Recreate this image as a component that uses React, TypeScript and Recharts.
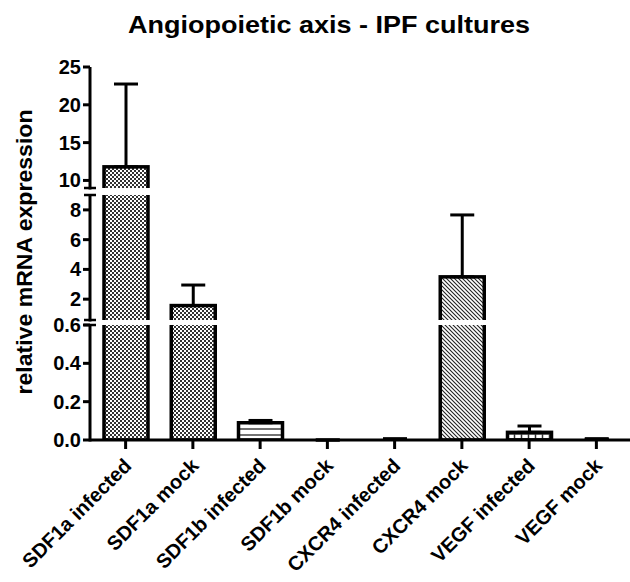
import React from 'react';
import { BarChart, Bar, XAxis, YAxis, ErrorBar } from 'recharts';

const categories = [
  'SDF1a infected',
  'SDF1a mock',
  'SDF1b infected',
  'SDF1b mock',
  'CXCR4 infected',
  'CXCR4 mock',
  'VEGF infected',
  'VEGF mock',
];
const means = [11.8, 1.57, 0.09, 0, 0.003, 3.5, 0.04, 0.003];
const errors = [10.95, 1.38, 0.012, 0, 0.004, 4.16, 0.033, 0.004];
const tickValues = [0, 0.2, 0.4, 0.6, 2, 4, 6, 8, 10, 15, 20, 25];
const tickLabels = ['0.0', '0.2', '0.4', '0.6', '2', '4', '6', '8', '10', '15', '20', '25'];

// fill pattern for each bar, in category order
const barPatterns = ['checker', 'checker', 'hlines', 'checker', 'hlines', 'diag', 'grid', 'diag'];

// broken y axis: each value range is mapped onto a piece of the axis (1 unit = 1px of plot height)
const axisParts = [
  { lo: 0, hi: 0.6, from: 0, to: 115 },
  { lo: 0.6, hi: 9, from: 120, to: 245 },
  { lo: 9, hi: 25, from: 252, to: 373 },
];
const AXIS_TOP = 373;

const toAxis = (v: number) => {
  const p = axisParts.find((s) => v <= s.hi) || axisParts[axisParts.length - 1];
  return p.from + ((v - p.lo) / (p.hi - p.lo)) * (p.to - p.from);
};

const rows = categories.map((name, i) => ({
  name,
  u: toAxis(means[i]),
  err: [0, toAxis(means[i] + errors[i]) - toAxis(means[i])],
}));

const FONT = '"Liberation Sans", Arial, Helvetica, sans-serif';

const PatternBar = (props: any) => {
  const { x, y, width, height, index, payload } = props;
  if (!height || height < 1.5) return null;
  const bottom = y + height;
  const k = height / payload.u;
  const gaps = axisParts
    .slice(1)
    .map((p, i) => [axisParts[i].to, p.from])
    .filter(([a]) => a < payload.u);
  return (
    <g>
      <rect
        x={x}
        y={y}
        width={width}
        height={height}
        fill={`url(#${barPatterns[index]})`}
        stroke="#000"
        strokeWidth={3.5}
      />
      {gaps.map(([a, b], i) => (
        <rect key={i} x={x - 3} y={bottom - b * k} width={width + 6} height={(b - a) * k} fill="#fff" />
      ))}
    </g>
  );
};

const YTick = (props: any) => {
  const { x, y, index } = props;
  return (
    <g>
      <line x1={x - 7} y1={y} x2={x} y2={y} stroke="#000" strokeWidth={3} />
      <text
        x={x - 9}
        y={y}
        dy={7}
        textAnchor="end"
        fontSize={20}
        fontWeight="bold"
        fontFamily={FONT}
        fill="#000"
      >
        {tickLabels[index]}
      </text>
      {index === 0 &&
        axisParts.map((p, i) => (
          <g key={i}>
            <line x1={x} y1={y - p.from + 1.5} x2={x} y2={y - p.to} stroke="#000" strokeWidth={3} />
            {i > 0 && <line x1={x - 6} y1={y - p.from} x2={x + 6} y2={y - p.from} stroke="#000" strokeWidth={2.5} />}
            {i < axisParts.length - 1 && (
              <line x1={x - 6} y1={y - p.to} x2={x + 6} y2={y - p.to} stroke="#000" strokeWidth={2.5} />
            )}
          </g>
        ))}
    </g>
  );
};

const XTick = (props: any) => {
  const { x, y, payload } = props;
  return (
    <g>
      <line x1={x} y1={y} x2={x} y2={y + 9} stroke="#000" strokeWidth={3} />
      <text
        transform={`translate(${x + 7},${y + 27}) rotate(-45)`}
        textAnchor="end"
        fontSize={20}
        fontWeight="bold"
        fontFamily={FONT}
        fill="#000"
      >
        {payload.value}
      </text>
    </g>
  );
};

const App = () => {
  return (
    <div style={{ position: 'absolute', left: 0, top: 0, width: 630, height: 582, background: '#fff' }}>
      <BarChart width={630} height={582} data={rows} margin={{ top: 67, right: 0, left: 0, bottom: 0 }} barSize={44}>
        <XAxis
          dataKey="name"
          height={142}
          interval={0}
          tick={<XTick />}
          tickLine={false}
          tickSize={0}
          tickMargin={0}
          axisLine={{ stroke: '#000', strokeWidth: 3 }}
          padding={{ left: 2, right: 0 }}
        />
        <YAxis
          type="number"
          width={90}
          domain={[0, AXIS_TOP]}
          ticks={tickValues.map(toAxis)}
          tick={<YTick />}
          tickLine={false}
          tickSize={0}
          tickMargin={0}
          axisLine={false}
          allowDataOverflow
        />
        <Bar dataKey="u" shape={<PatternBar />} isAnimationActive={false}>
          <ErrorBar dataKey="err" width={12} strokeWidth={3} stroke="#000" direction="y" isAnimationActive={false} />
        </Bar>
      </BarChart>
      <svg width={630} height={582} style={{ position: 'absolute', left: 0, top: 0, pointerEvents: 'none' }}>
        <defs>
          <pattern id="checker" width={4} height={4} patternUnits="userSpaceOnUse">
            <rect width={4} height={4} fill="#fff" />
            <rect width={2} height={2} fill="#333" />
            <rect x={2} y={2} width={2} height={2} fill="#333" />
          </pattern>
          <pattern id="hlines" width={6} height={6} patternUnits="userSpaceOnUse">
            <rect width={6} height={6} fill="#fff" />
            <line x1={0} y1={3} x2={6} y2={3} stroke="#444" strokeWidth={1.5} />
          </pattern>
          <pattern id="diag" width={4} height={4} patternUnits="userSpaceOnUse">
            <rect width={4} height={4} fill="#fff" />
            <path d="M0,0 L4,4 M-1,3 L1,5 M3,-1 L5,1" stroke="#222" strokeWidth={1.1} />
          </pattern>
          <pattern id="grid" width={7} height={5} patternUnits="userSpaceOnUse">
            <rect width={7} height={5} fill="#fff" />
            <line x1={0} y1={4} x2={7} y2={4} stroke="#333" strokeWidth={1.5} />
            <line x1={3.5} y1={0} x2={3.5} y2={5} stroke="#333" strokeWidth={1.5} />
          </pattern>
        </defs>
        <text
          x={329}
          y={33}
          textAnchor="middle"
          fontSize={24}
          fontWeight="bold"
          fontFamily={FONT}
          textLength={402}
          lengthAdjust="spacingAndGlyphs"
        >
          Angiopoietic axis - IPF cultures
        </text>
        <text
          transform="translate(32,252) rotate(-90)"
          textAnchor="middle"
          fontSize={22}
          fontWeight="bold"
          fontFamily={FONT}
          textLength={285}
          lengthAdjust="spacingAndGlyphs"
        >
          relative mRNA expression
        </text>
      </svg>
    </div>
  );
};

export default App;
